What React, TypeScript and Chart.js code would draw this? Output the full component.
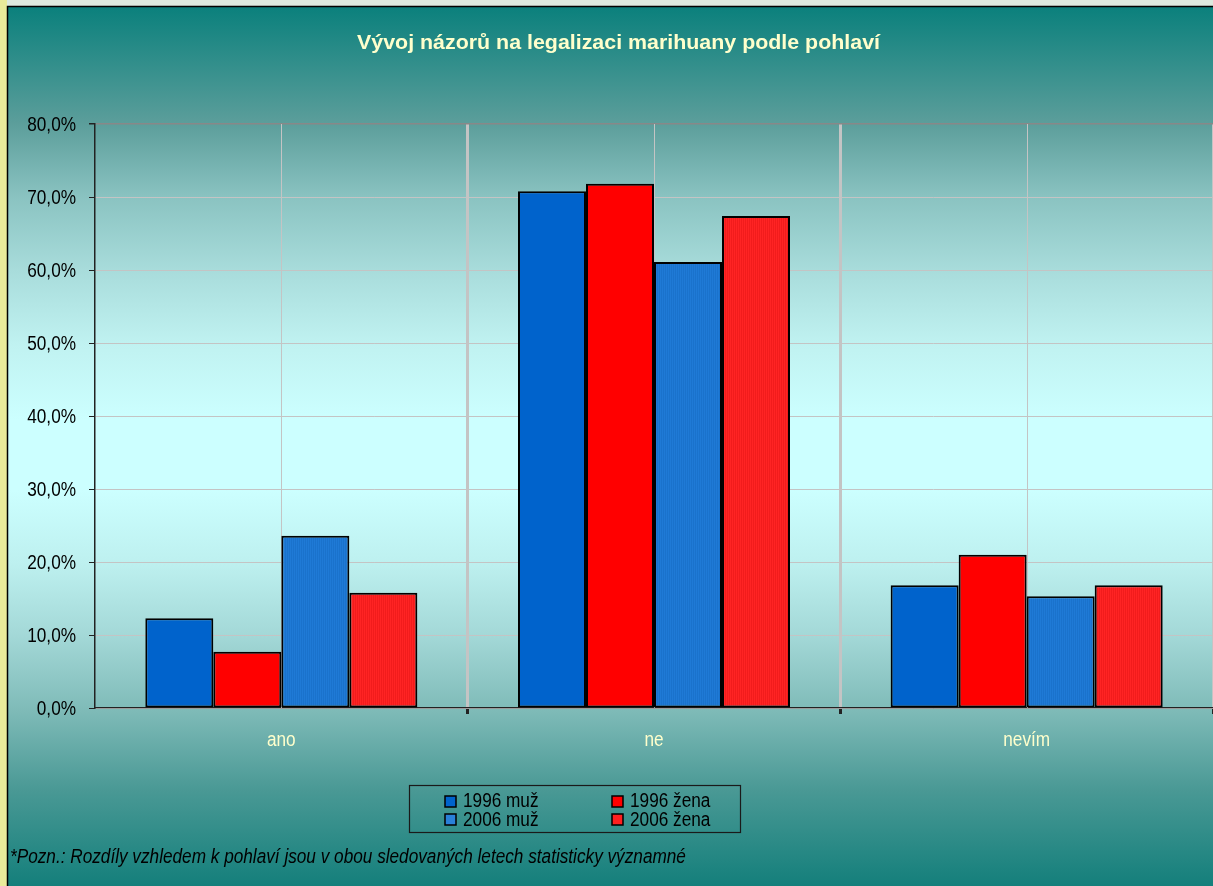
import React, { useEffect, useRef } from "react";
import { Chart, registerables } from "chart.js";

Chart.register(...registerables);

const categories = ["ano", "ne", "nevím"];
const seriesLabels = ["1996 muž", "1996 žena", "2006 muž", "2006 žena"];
const muz1996 = [12.3, 70.8, 16.8];
const zena1996 = [7.7, 71.8, 21.0];
const muz2006 = [23.6, 61.1, 15.3];
const zena2006 = [15.8, 67.4, 16.8];
const yTicks = [0, 10, 20, 30, 40, 50, 60, 70, 80];
const titleText = "Vývoj názorů na legalizaci marihuany podle pohlaví";
const noteText = "*Pozn.: Rozdíly vzhledem k pohlaví jsou v obou sledovaných letech statisticky významné";

const FONT = "'Liberation Sans', Arial, sans-serif";
const NARROW = 0.86;

function stripePattern(a: string, b: string) {
  const c = document.createElement("canvas");
  c.width = 2;
  c.height = 2;
  const x = c.getContext("2d")!;
  x.fillStyle = a;
  x.fillRect(0, 0, 1, 2);
  x.fillStyle = b;
  x.fillRect(1, 0, 1, 2);
  const ctx = document.createElement("canvas").getContext("2d")!;
  return ctx.createPattern(c, "repeat")!;
}

function narrowText(
  ctx: CanvasRenderingContext2D,
  text: string,
  x: number,
  y: number,
  font: string,
  color: string,
  align: CanvasTextAlign = "left",
  sx = NARROW,
  spacing = 0
) {
  ctx.save();
  ctx.font = font;
  ctx.fillStyle = color;
  ctx.textAlign = align;
  ctx.textBaseline = "alphabetic";
  (ctx as any).letterSpacing = spacing + "px";
  ctx.translate(x, y);
  ctx.scale(sx, 1);
  ctx.fillText(text, 0, 0);
  ctx.restore();
}

export default function App() {
  const ref = useRef<HTMLCanvasElement>(null);
  useEffect(() => {
    document.body.style.margin = "0";
    document.body.style.overflow = "hidden";
    const canvas = ref.current!;
    const blueStripe = stripePattern("#1f7ad6", "#1a72cc");
    const redStripe = stripePattern("#ff2424", "#f21c1c");
    const colors: any[] = ["#0063cc", "#ff0000", blueStripe, redStripe];
    const legendColors = ["#0063cc", "#ff0000", "#2a80d8", "#ff2020"];

    const bgPlugin = {
      id: "bg",
      beforeDraw(chart: any) {
        const ctx = chart.ctx;
        const W = chart.width, H = chart.height;
        ctx.save();
        ctx.fillStyle = "#dde9df";
        ctx.fillRect(0, 0, W, H);
        ctx.fillStyle = "#e9eb9a";
        ctx.fillRect(0, 0, 7, H);
        const g = ctx.createLinearGradient(0, 6, 0, H);
        g.addColorStop(0, "#0a807c");
        g.addColorStop(0.134, "#5c9e9b");
        g.addColorStop(0.217, "#8ac3c1");
        g.addColorStop(0.3, "#a8dcdb");
        g.addColorStop(0.385, "#c0f2f1");
        g.addColorStop(0.47, "#ccffff");
        g.addColorStop(0.55, "#ccffff");
        g.addColorStop(0.634, "#bdf0ef");
        g.addColorStop(0.716, "#a3d8d7");
        g.addColorStop(0.8, "#7fbbb8");
        g.addColorStop(0.89, "#4a9995");
        g.addColorStop(1, "#147f7b");
        ctx.fillStyle = g;
        ctx.fillRect(7, 6, W - 7, H - 6);
        ctx.strokeStyle = "#000";
        ctx.lineWidth = 1.5;
        ctx.beginPath();
        ctx.moveTo(7.5, H);
        ctx.lineTo(7.5, 6.5);
        ctx.lineTo(W, 6.5);
        ctx.stroke();
        ctx.restore();
      },
      beforeDatasetsDraw(chart: any) {
        const ctx = chart.ctx;
        const xs = chart.scales.x;
        const area = chart.chartArea;
        ctx.save();
        ctx.strokeStyle = "#c4c4c4";
        ctx.lineWidth = 1;
        categories.forEach((_, i) => {
          const px = Math.round(xs.getPixelForValue(i)) + 0.5;
          ctx.beginPath();
          ctx.moveTo(px, area.top);
          ctx.lineTo(px, area.bottom);
          ctx.stroke();
        });
        ctx.restore();
      },
      afterDraw(chart: any) {
        const ctx = chart.ctx;
        // title
        const tFont = `bold 21px ${FONT}`;
        ctx.save();
        ctx.font = tFont;
        const tw = ctx.measureText(titleText).width;
        ctx.restore();
        narrowText(ctx, titleText, 357, 49, tFont, "#ffffcc", "left", 523 / tw, 0);

        // y tick labels
        const ys = chart.scales.y;
        ys.ticks.forEach((t: any) => {
          const py = ys.getPixelForValue(t.value);
          narrowText(ctx, t.label, 76, py + 7, `20px ${FONT}`, "#000", "right");
        });
        // x tick labels
        const xs = chart.scales.x;
        chart.data.labels.forEach((lab: string, i: number) => {
          narrowText(ctx, lab, xs.getPixelForValue(i), 746, `20px ${FONT}`, "#ffffcc", "center");
        });

        // legend
        ctx.save();
        ctx.strokeStyle = "#1a1a1a";
        ctx.lineWidth = 1.2;
        ctx.strokeRect(409.5, 785.5, 331, 47);
        ctx.restore();
        const pos = [
          [445, 796, 463, 806.5],
          [612, 796, 630, 806.5],
          [445, 814, 463, 826],
          [612, 814, 630, 826],
        ];
        chart.data.datasets.forEach((ds: any, i: number) => {
          const [mx, my, tx, ty] = pos[i];
          ctx.save();
          ctx.fillStyle = legendColors[i];
          ctx.fillRect(mx, my, 11, 11);
          ctx.strokeStyle = "#000";
          ctx.lineWidth = 1.5;
          ctx.strokeRect(mx, my, 11, 11);
          ctx.restore();
          narrowText(ctx, ds.label, tx, ty, `20px ${FONT}`, "#000", "left");
        });
        // footnote
        narrowText(ctx, noteText, 10, 863, `italic 20px ${FONT}`, "#000", "left");
      },
    };

    const chart = new Chart(canvas, {
      type: "bar",
      data: {
        labels: categories,
        datasets: [muz1996, zena1996, muz2006, zena2006].map((d, i) => ({
          label: seriesLabels[i],
          data: d,
          backgroundColor: colors[i],
          borderColor: "#000",
          borderWidth: 2,
          borderSkipped: false,
          categoryPercentage: 0.73,
          barPercentage: 1,
        })),
      },
      options: {
        animation: false,
        responsive: false,
        events: [],
        layout: { padding: { left: 0, right: 0, top: 124, bottom: 0 } },
        plugins: {
          legend: { display: false },
          tooltip: { enabled: false },
          title: { display: false },
        },
        scales: {
          x: {
            type: "category",
            grid: {
              offset: true,
              color: "#c4c4c4",
              lineWidth: (c: any) => (c.index === 0 ? 0 : 3),
              tickColor: "#222",
              tickLength: 6,
              drawOnChartArea: true,
            },
            border: { color: "#222", width: 1.2 },
            ticks: { display: false },
            afterFit: (s: any) => {
              s.height = 178;
            },
          },
          y: {
            min: 0,
            max: 80,
            afterBuildTicks: (s: any) => {
              s.ticks = yTicks.map((v) => ({ value: v }));
            },
            grid: {
              color: (c: any) => (c.tick && c.tick.value === 80 ? "#888888" : "#c4c4c4"),
              lineWidth: (c: any) => (c.tick && c.tick.value === 80 ? 1.5 : 1),
              tickColor: "#222",
              tickLength: 6,
            },
            border: { color: "#222", width: 1.5 },
            ticks: {
              display: false,
              callback: (v: any) => Number(v).toFixed(1).replace(".", ",") + "%",
            },
            afterFit: (s: any) => {
              s.width = 95;
            },
          },
        },
      },
      plugins: [bgPlugin],
    } as any);
    return () => chart.destroy();
  }, []);
  return <canvas ref={ref} width={1213} height={886} style={{ display: "block" }} />;
}
